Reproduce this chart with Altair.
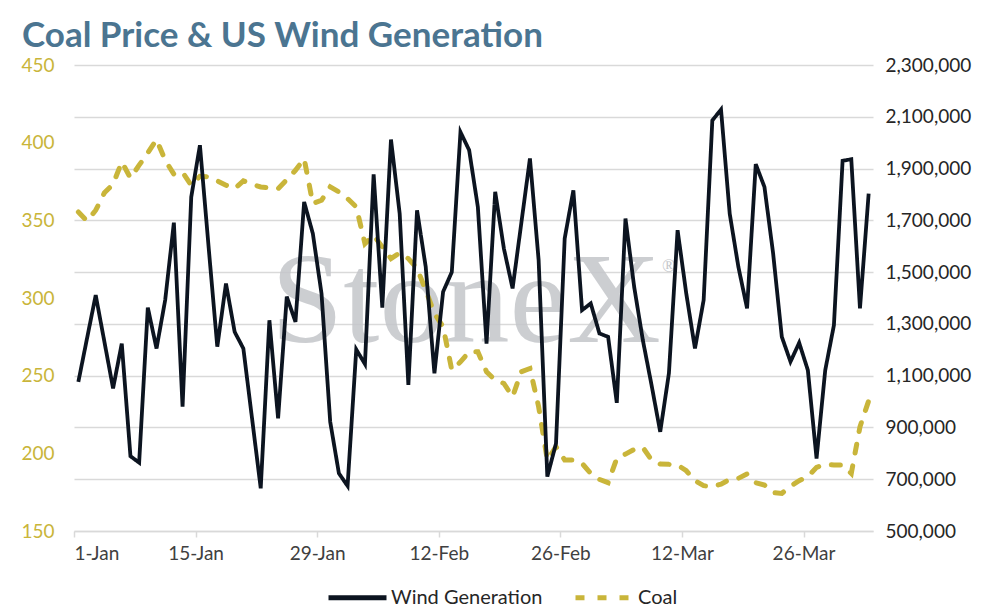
import altair as alt
import pandas as pd

start_date = "2023-01-01"
n_days = 92

coal = [355.4, 349.6, 356.5, 367.7, 373.3, 387.6, 377.3, 385.5, 393.4, 402.0,
        388.7, 379.7, 381.0, 372.6, 378.4, 378.0, 375.4, 372.6, 370.4, 375.4,
        373.2, 371.5, 370.9, 370.4, 376.2, 382.2, 389.7, 360.8, 362.9, 371.5,
        368.3, 364.0, 358.6, 335.0, 340.4, 332.9, 325.4, 329.0, 325.4, 319.0,
        305.0, 290.0, 281.5, 253.6, 258.9, 265.4, 265.4, 252.5, 247.1, 245.0,
        236.4, 252.5, 254.6, 230.0, 195.7, 204.3, 195.7, 195.7, 193.5, 187.1,
        183.2, 181.1, 196.7, 199.5, 202.5, 203.8, 195.7, 193.1, 192.9, 192.5,
        188.8, 182.4, 179.2, 178.5, 180.2, 183.2, 183.9, 186.7, 181.1, 179.6,
        174.7, 174.2, 178.9, 182.4, 185.0, 191.0, 192.9, 192.5, 192.5, 187.1,
        217.1, 233.8]

wind = [1076000, 1244000, 1411000, 1231000, 1051000, 1224000, 789000, 764000, 1363000, 1205000,
        1392000, 1691000, 980000, 1790000, 1990000, 1597000, 1212000, 1456000, 1269000, 1205000,
        935000, 665000, 1314000, 935000, 1405000, 1308000, 1771000, 1649000, 1417000, 922000,
        723000, 674000, 1201000, 1145000, 1878000, 1363000, 2012000, 1726000, 1064000, 1739000,
        1520000, 1109000, 1424000, 1500000, 2041000, 1971000, 1752000, 1224000, 1810000, 1591000,
        1437000, 1688000, 1939000, 1546000, 710000, 838000, 1630000, 1816000, 1353000, 1379000,
        1263000, 1250000, 995000, 1707000, 1443000, 1237000, 1064000, 883000, 1109000, 1662000,
        1417000, 1205000, 1392000, 2086000, 2128000, 1726000, 1520000, 1360000, 1917000, 1829000,
        1572000, 1250000, 1154000, 1227000, 1121000, 780000, 1121000, 1295000, 1930000, 1936000,
        1360000, 1803000]

series_names = ["Wind Generation", "Coal"]
coal_ticks = [150, 200, 250, 300, 350, 400, 450]
wind_ticks = [500000, 700000, 900000, 1100000, 1300000, 1500000, 1700000, 1900000, 2100000, 2300000]
x_tick_dates = [(1, 1), (1, 15), (1, 29), (2, 12), (2, 26), (3, 12), (3, 26)]
title_text = "Coal Price & US Wind Generation"
watermark_text = "StoneX"

GOLD = "#c9b53a"
BLACK = "#0c1420"
GRID = "#d9d9d9"
FONT = "Lato"

dates = pd.date_range(start_date, periods=n_days, freq="D")
df = pd.concat([
    pd.DataFrame({"date": dates, "series": series_names[0], "value": wind}),
    pd.DataFrame({"date": dates, "series": series_names[1], "value": coal}),
])

x_enc = alt.X(
    "date:T",
    timeUnit="yearmonthdate",
    bandPosition=0.5,
    scale=alt.Scale(domain=[alt.DateTime(year=2023, month=1, date=1),
                            alt.DateTime(year=2023, month=4, date=3)]),
    axis=alt.Axis(
        values=[alt.DateTime(year=2023, month=m, date=d) for m, d in x_tick_dates],
        format="%-d-%b", grid=False, domainColor=GRID, domainWidth=1.5,
        tickColor=GRID, tickWidth=1.5, tickSize=6, labelFontSize=19,
        labelColor="#404040", labelFont=FONT, labelPadding=7, title=None,
    ),
)

legend_def = alt.Legend(
    title=None, orient="none", legendX=252, legendY=501, direction="horizontal",
    symbolType="stroke", symbolSize=3364, symbolStrokeWidth=5,
    labelFontSize=20, labelFont=FONT, labelColor="#262626",
    columnPadding=22, labelOffset=2,
)

color_enc = alt.Color(
    "series:N",
    scale=alt.Scale(domain=series_names, range=[BLACK, GOLD]),
    legend=legend_def,
)
dash_enc = alt.StrokeDash(
    "series:N",
    scale=alt.Scale(domain=series_names, range=[[1, 0], [9, 13]]),
    legend=legend_def,
)

base = alt.Chart(df)

coal_line = base.transform_filter(alt.datum.series == "Coal").mark_line(
    strokeWidth=5, strokeCap="round"
).encode(
    x=x_enc,
    y=alt.Y("value:Q", scale=alt.Scale(domain=[150, 450], nice=False, zero=False),
            axis=alt.Axis(orient="left", values=coal_ticks, grid=False, domain=False,
                          ticks=False, labelColor=GOLD, labelFontSize=19, labelFont=FONT,
                          labelPadding=20, title=None)),
    color=color_enc,
    strokeDash=dash_enc,
)

wind_line = base.transform_filter(alt.datum.series == "Wind Generation").mark_line(
    strokeWidth=3.8
).encode(
    x=x_enc,
    y=alt.Y("value:Q", scale=alt.Scale(domain=[500000, 2300000], nice=False, zero=False),
            axis=alt.Axis(orient="right", values=wind_ticks, grid=True, gridColor=GRID,
                          gridWidth=1.5, domain=False, ticks=False, format=",d",
                          labelColor="#262626", labelFontSize=19, labelFont=FONT,
                          labelPadding=12, title=None)),
    color=color_enc,
    strokeDash=dash_enc,
)

texts = pd.DataFrame({"title": [title_text], "wm": [watermark_text], "reg": ["®"]})
tbase = alt.Chart(texts)
watermark = tbase.mark_text(
    font="Liberation Serif", fontSize=130, color="#c4c6ca", opacity=0.85,
    align="center", baseline="alphabetic",
).encode(text="wm:N", x=alt.value(392), y=alt.value(277))
reg = tbase.mark_text(
    font="Liberation Serif", fontSize=18, color="#c4c6ca", align="left", baseline="middle",
).encode(text="reg:N", x=alt.value(588), y=alt.value(202))
title = tbase.mark_text(
    font=FONT, fontSize=35, fontWeight="bold", color="#4b7591",
    align="left", baseline="alphabetic",
).encode(text="title:N", x=alt.value(-52), y=alt.value(-18))

chart = alt.layer(watermark, reg, coal_line, wind_line, title).resolve_scale(
    y="independent"
).properties(
    width=799, height=466,
    autosize=alt.AutoSizeParams(type="none"),
    padding={"left": 66, "top": 57, "right": 110, "bottom": 80},
).configure_view(stroke=None)

chart.save("out.html", embed_options={"renderer": "svg", "actions": False})
